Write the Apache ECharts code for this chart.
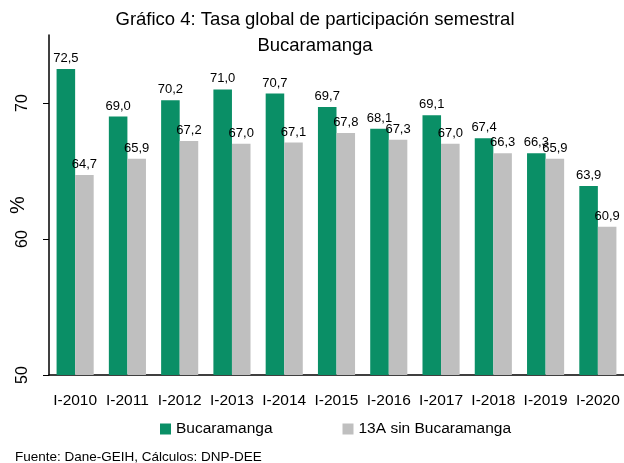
<!DOCTYPE html>
<html><head><meta charset="utf-8">
<script src="https://cdn.jsdelivr.net/npm/echarts@6/dist/echarts.min.js"></script>
<style>html,body{margin:0;padding:0;background:#fff}#c{width:624px;height:463px}</style>
</head><body><div id="c"></div>
<script>
const categories = ["I-2010","I-2011","I-2012","I-2013","I-2014","I-2015","I-2016","I-2017","I-2018","I-2019","I-2020"];
const bucaramanga = [72.5,69.0,70.2,71.0,70.7,69.7,68.1,69.1,67.4,66.3,63.9];
const sinBucaramanga = [64.7,65.9,67.2,67.0,67.1,67.8,67.3,67.0,66.3,65.9,60.9];
const seriesNames = ["Bucaramanga","13A sin Bucaramanga"];
const titleText = "Gráfico 4: Tasa global de participación semestral\nBucaramanga";
const sourceText = "Fuente: Dane-GEIH, Cálculos: DNP-DEE";

const FONT = "Liberation Sans";
const chart = echarts.init(document.getElementById('c'));
const lbl = {show:true, position:'top', color:'#000', fontFamily:FONT, fontSize:13, distance:4,
  formatter: p => p.value.toFixed(1).replace('.', ',')};
chart.setOption({
  animation:false,
  textStyle:{fontFamily:FONT},
  title:[{text:titleText, top:7, padding:0, textAlign:'center', left:315,
    textStyle:{fontFamily:FONT, fontSize:18.5, fontWeight:'normal', color:'#000', lineHeight:26}},
    {text:sourceText, left:15, top:450, padding:0, textStyle:{fontFamily:FONT, fontSize:13.5, fontWeight:'normal', color:'#000'}}],
  legend:{data:seriesNames, left:160, top:421, padding:0, itemWidth:11, itemHeight:11, itemGap:70,
    icon:'rect', textStyle:{fontFamily:FONT, fontSize:15.5, color:'#000'}},
  grid:{left:49, right:0, top:35, bottom:88, containLabel:false, outerBoundsMode:'none'},
  xAxis:{type:'category', data:categories,
    axisLine:{lineStyle:{color:'#000', width:1.5}}, axisTick:{show:false},
    axisLabel:{color:'#000', fontFamily:FONT, fontSize:15.5, margin:18, interval:0}},
  yAxis:{type:'value', min:50, max:75, interval:10, name:'%', nameLocation:'middle', nameGap:21,
    nameMoveOverlap:false,
    nameRotate:90, nameTextStyle:{fontFamily:FONT, fontSize:20, color:'#000'},
    axisLine:{show:true, lineStyle:{color:'#000', width:1.5}},
    axisTick:{show:true, length:6, lineStyle:{color:'#000'}},
    axisLabel:{color:'#000', fontFamily:FONT, fontSize:16, rotate:90, showMaxLabel:false, margin:18},
    splitLine:{show:false}},
  series:[
    {name:seriesNames[0], type:'bar', data:bucaramanga, barGap:'0%', barCategoryGap:'29%',
      itemStyle:{color:'#0a8f66'}, label:lbl},
    {name:seriesNames[1], type:'bar', data:sinBucaramanga,
      itemStyle:{color:'#bfbfbf'}, label:lbl}
  ]
});
</script></body></html>
